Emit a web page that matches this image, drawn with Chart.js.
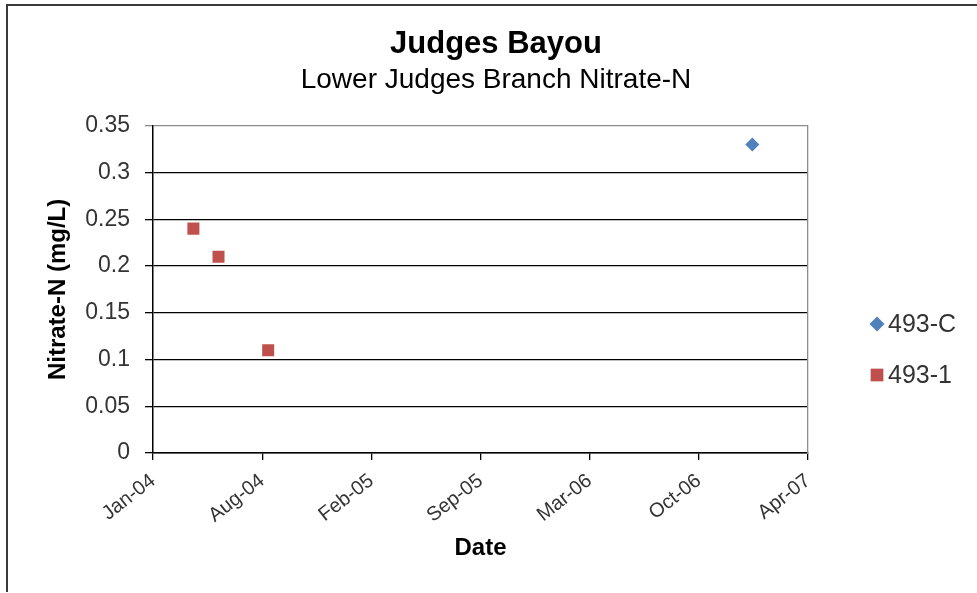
<!DOCTYPE html>
<html>
<head>
<meta charset="utf-8">
<script src="https://cdn.jsdelivr.net/npm/chart.js@4.4.0/dist/chart.umd.min.js"></script>
<style>
  html, body { margin: 0; padding: 0; background: #fff; }
  #wrap { position: relative; width: 977px; height: 593px; overflow: hidden; }
  #frame { position: absolute; left: 6px; top: 4px; width: 1000px; height: 586px;
           border-left: 2px solid #3a3a3a; border-top: 2px solid #3a3a3a; }
  canvas { position: absolute; left: 0; top: 0; }
</style>
</head>
<body>
<div id="wrap">
  <div id="frame"></div>
  <canvas id="chart" width="977" height="593"></canvas>
</div>
<script>
// series
const seriesNames = ["493-C", "493-1"];
const dates493C = ["2007-01-16"];
const values493C = [0.33];
const dates4931 = ["2004-03-28", "2004-05-13", "2004-08-12"];
const values4931 = [0.24, 0.21, 0.11];

// axes (x values are Excel date serials)
const xTickSerials = [38000, 38200, 38400, 38600, 38800, 39000, 39200];
const xTickLabels = ["Jan-04", "Aug-04", "Feb-05", "Sep-05", "Mar-06", "Oct-06", "Apr-07"];
const yTicks = [0, 0.05, 0.1, 0.15, 0.2, 0.25, 0.3, 0.35];

const FONT = "'Liberation Sans', Arial, sans-serif";
const BLUE = "#4F81BD";
const RED = "#C0504D";

function toSerial(s) {
  const [y, m, d] = s.split("-").map(Number);
  return (Date.UTC(y, m - 1, d) - Date.UTC(1899, 11, 30)) / 86400000;
}

const pointsC = dates493C.map((d, i) => ({ x: toSerial(d), y: values493C[i] }));
const points1 = dates4931.map((d, i) => ({ x: toSerial(d), y: values4931[i] }));

// legend drawn at the right like the Excel one
const sideLegend = {
  id: "sideLegend",
  afterDraw(chart) {
    const ctx = chart.ctx;
    const rows = [
      { style: "rectRot", r: 7.5, y: 324 },
      { style: "rect", r: 9, y: 375 }
    ];
    ctx.save();
    ctx.font = "25px " + FONT;
    ctx.textBaseline = "middle";
    rows.forEach((row, i) => {
      const color = chart.data.datasets[i].backgroundColor;
      ctx.fillStyle = color;
      ctx.strokeStyle = color;
      Chart.helpers.drawPoint(ctx, { pointStyle: row.style, radius: row.r, borderWidth: 0 }, 877, row.y);
      ctx.fillStyle = "#333";
      ctx.fillText(seriesNames[i], 888, row.y + 1);
    });
    ctx.restore();
  }
};

new Chart(document.getElementById("chart"), {
  type: "scatter",
  data: {
    datasets: [
      {
        label: seriesNames[0], data: pointsC,
        pointStyle: "rectRot", pointRadius: 7, pointHoverRadius: 7,
        backgroundColor: BLUE, borderColor: BLUE, borderWidth: 0
      },
      {
        label: seriesNames[1], data: points1,
        pointStyle: "rect", pointRadius: 8.5, pointHoverRadius: 8.5,
        backgroundColor: RED, borderColor: RED, borderWidth: 0
      }
    ]
  },
  options: {
    responsive: false,
    animation: false,
    devicePixelRatio: 1,
    layout: { padding: { left: 15, right: 0, top: 0, bottom: 0 } },
    plugins: {
      legend: { display: false },
      tooltip: { enabled: false },
      title: {
        display: true,
        text: "Judges Bayou",
        color: "#000",
        font: { family: FONT, size: 31, weight: "bold", lineHeight: 1.2 },
        padding: { top: 26, bottom: 0 }
      },
      subtitle: {
        display: true,
        text: "Lower Judges Branch Nitrate-N",
        color: "#000",
        font: { family: FONT, size: 28, lineHeight: 1.2 },
        padding: { top: 0, bottom: 29 }
      }
    },
    scales: {
      x: {
        type: "linear",
        position: "bottom",
        min: xTickSerials[0],
        max: xTickSerials[xTickSerials.length - 1],
        afterBuildTicks: (s) => { s.ticks = xTickSerials.map(v => ({ value: v })); },
        afterFit: (s) => { s.height = 140; },
        ticks: {
          autoSkip: false,
          minRotation: 38, maxRotation: 38,
          padding: 9,
          color: "#333",
          font: { family: FONT, size: 20 },
          callback: (v) => xTickLabels[xTickSerials.indexOf(v)]
        },
        grid: { drawOnChartArea: false, drawTicks: true, tickLength: 7, color: "#000", lineWidth: 1.3 },
        border: { color: "#000", width: 1.5 },
        title: {
          display: true, text: "Date", color: "#000",
          font: { family: FONT, size: 24, weight: "bold", lineHeight: 1.2 },
          padding: { top: 0, bottom: 30 }
        }
      },
      y: {
        position: "left",
        min: 0, max: 0.35,
        afterBuildTicks: (s) => { s.ticks = yTicks.map(v => ({ value: v })); },
        afterFit: (s) => { s.width = 138; },
        ticks: {
          padding: 15,
          color: "#333",
          font: { family: FONT, size: 23 },
          callback: (v) => String(parseFloat(v.toFixed(2)))
        },
        grid: {
          drawTicks: true, tickLength: 8, lineWidth: 1.3,
          color: (c) => (c.tick && c.tick.value === 0.35 ? "#8c8c8c" : "#000")
        },
        border: { color: "#000", width: 1.5 },
        title: {
          display: true, text: "Nitrate-N (mg/L)", color: "#000",
          font: { family: FONT, size: 24, weight: "bold", lineHeight: 1.2 },
          padding: { top: 29, bottom: 0 }
        }
      },
      yRight: {
        position: "right",
        min: 0, max: 0.35,
        afterFit: (s) => { s.width = 169; },
        ticks: { display: false },
        grid: { drawOnChartArea: false, drawTicks: false },
        border: { color: "#8c8c8c", width: 1.3 }
      }
    }
  },
  plugins: [sideLegend]
});
</script>
</body>
</html>
